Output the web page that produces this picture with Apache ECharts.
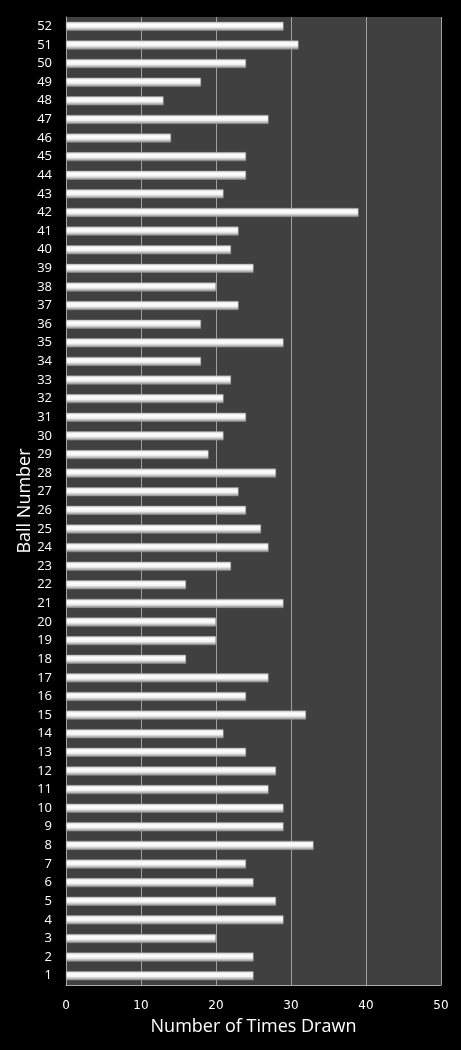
<!DOCTYPE html>
<html>
<head>
<meta charset="utf-8">
<script src="https://cdn.jsdelivr.net/npm/echarts@6/dist/echarts.min.js"></script>
<style>
  html, body { margin: 0; padding: 0; background: #000; }
  #chart { width: 461px; height: 1050px; }
</style>
</head>
<body>
<div id="chart"></div>
<script>
// ball numbers 1..52 (bottom to top)
var balls = ['1','2','3','4','5','6','7','8','9','10','11','12','13','14','15','16','17','18','19','20',
  '21','22','23','24','25','26','27','28','29','30','31','32','33','34','35','36','37','38','39','40',
  '41','42','43','44','45','46','47','48','49','50','51','52'];

// times drawn, same order as balls
var timesDrawn = [25, 25, 20, 29, 28, 25, 24, 33, 29, 29, 27, 28, 24, 21, 32, 24, 27, 16, 20, 20,
  29, 16, 22, 27, 26, 24, 23, 28, 19, 21, 24, 21, 22, 18, 29, 18, 23, 20, 25, 22,
  23, 39, 21, 24, 24, 14, 27, 13, 18, 24, 31, 29];

var xTicks = [0, 10, 20, 30, 40, 50];

var chart = echarts.init(document.getElementById('chart'));

var option = {
  backgroundColor: '#000',
  animation: false,
  grid: {
    left: 66,
    right: 20,
    top: 17,
    bottom: 65,
    show: true,
    backgroundColor: '#404040',
    borderWidth: 0
  },
  xAxis: {
    type: 'value',
    min: xTicks[0],
    max: xTicks[xTicks.length - 1],
    interval: 10,
    name: 'Number of Times Drawn',
    nameLocation: 'middle',
    nameGap: 33,
    nameMoveOverlap: false,
    nameTextStyle: { color: '#fff', fontSize: 18, fontFamily: 'Open Sans' },
    axisLine: { show: true, lineStyle: { color: '#a8a8a8', width: 1 } },
    axisTick: { show: false },
    axisLabel: { color: '#fff', fontSize: 12, fontFamily: 'DejaVu Sans', margin: 15 },
    splitLine: { show: true, lineStyle: { color: '#a0a0a0', width: 1 } }
  },
  yAxis: {
    type: 'category',
    data: balls,
    name: 'Ball Number',
    nameLocation: 'middle',
    nameGap: 32,
    nameMoveOverlap: false,
    nameTextStyle: { color: '#fff', fontSize: 18, fontFamily: 'Open Sans' },
    axisLine: { show: true, lineStyle: { color: '#a8a8a8', width: 1 } },
    axisTick: { show: false },
    axisLabel: { color: '#fff', fontSize: 13, fontFamily: 'Open Sans', margin: 14, interval: 0 },
    splitLine: { show: false }
  },
  series: [{
    name: 'Times Drawn',
    type: 'bar',
    data: timesDrawn,
    barWidth: 9,
    itemStyle: {
      color: new echarts.graphic.LinearGradient(0, 0, 0, 1, [
        { offset: 0, color: '#d0d0d0' },
        { offset: 0.3, color: '#ffffff' },
        { offset: 0.6, color: '#f2f2f2' },
        { offset: 1, color: '#8a8a8a' }
      ]),
      borderColor: '#9a9a9a',
      borderWidth: 0.5
    }
  }]
};

chart.setOption(option);
</script>
</body>
</html>
